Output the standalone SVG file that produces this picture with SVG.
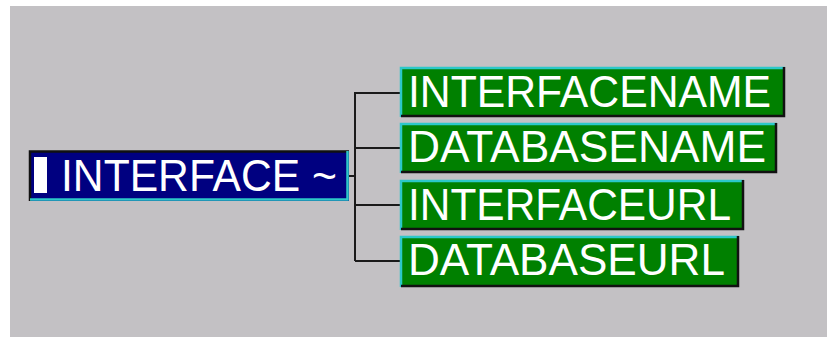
<svg xmlns="http://www.w3.org/2000/svg" width="837" height="337" viewBox="0 0 837 337">
<style>
.lbl{font-family:"Liberation Sans",Arial,sans-serif;font-size:44px;fill:#ffffff}
.hi{fill:none;stroke:#2cc8c8;stroke-width:2.5}
.sh{fill:none;stroke:#111111;stroke-width:2.5}
.con{fill:none;stroke:#1a1a1a;stroke-width:2}
</style>
<rect x="0" y="0" width="837" height="337" fill="#ffffff"/>
<rect x="10" y="6" width="817" height="331" fill="#c3c1c4"/>
<g id="connectors">
<path class="con" d="M349 176H355M355 92V261M355 93H400M355 148H400M355 205H400M355 261H400"/>
</g>
<g id="interface">
<rect x="29" y="151" width="320" height="50" fill="#000080"/>
<path class="sh" d="M30 201V151.5H349"/>
<path class="hi" d="M30 199.5H347.5V151"/>
<rect x="34" y="157" width="13" height="36" fill="#ffffff"/>
<text class="lbl" x="61" y="191" textLength="276" lengthAdjust="spacingAndGlyphs">INTERFACE ~</text>
</g>
<g id="interfacename">
<rect x="400" y="67" width="385" height="50" fill="#008000"/>
<path class="hi" d="M401 117V68H785"/>
<path class="sh" d="M401 116H784V67"/>
<text class="lbl" x="408" y="107" textLength="363" lengthAdjust="spacingAndGlyphs">INTERFACENAME</text>
</g>
<g id="databasename">
<rect x="400" y="123" width="377" height="50" fill="#008000"/>
<path class="hi" d="M401 173V124H777"/>
<path class="sh" d="M401 172H776V123"/>
<text class="lbl" x="408" y="162" textLength="358" lengthAdjust="spacingAndGlyphs">DATABASENAME</text>
</g>
<g id="interfaceurl">
<rect x="400" y="180" width="344" height="50" fill="#008000"/>
<path class="hi" d="M401 230V181H744"/>
<path class="sh" d="M401 229H743V180"/>
<text class="lbl" x="408" y="220" textLength="323" lengthAdjust="spacingAndGlyphs">INTERFACEURL</text>
</g>
<g id="databaseurl">
<rect x="400" y="236" width="339" height="51" fill="#008000"/>
<path class="hi" d="M401 287V237H739"/>
<path class="sh" d="M401 286H738V236"/>
<text class="lbl" x="408" y="275" textLength="317" lengthAdjust="spacingAndGlyphs">DATABASEURL</text>
</g>
</svg>
